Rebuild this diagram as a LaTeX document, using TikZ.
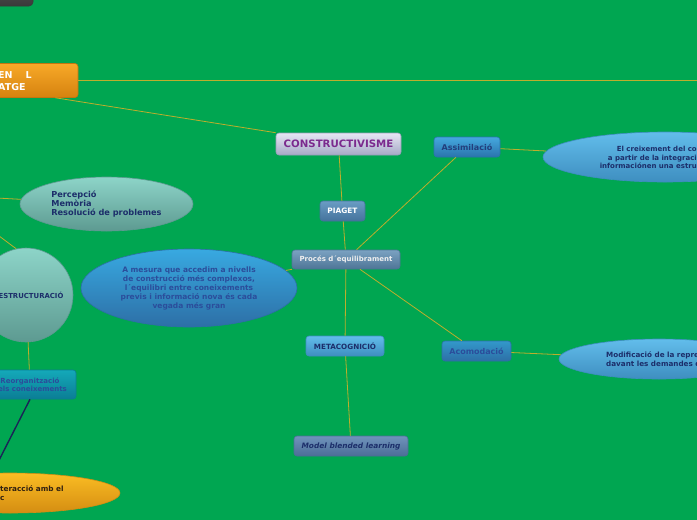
\documentclass[tikz,border=0pt]{standalone}
\usepackage{fontspec}
\setmainfont{DejaVu Sans}
\usepackage{xcolor}
\usetikzlibrary{shapes.geometric}
\definecolor{mapgreen}{HTML}{00A651}
\definecolor{linkolive}{HTML}{BDAE2C}
\definecolor{linknavy}{HTML}{1A2456}
\definecolor{inknavy}{HTML}{1C2E6A}
\definecolor{inkblue}{HTML}{2B4D9B}
\definecolor{inkpurple}{HTML}{7B2A8E}
\definecolor{darktop}{HTML}{5A5A5A}
\definecolor{darkbot}{HTML}{3A3A3A}
\definecolor{orangetop}{HTML}{F7A928}
\definecolor{orangebot}{HTML}{D6820F}
\definecolor{orangeline}{HTML}{C47510}
\definecolor{lilactop}{HTML}{E6E6F4}
\definecolor{lilacbot}{HTML}{A6A9C6}
\definecolor{lilacline}{HTML}{9A9DBA}
\definecolor{steeltop}{HTML}{6A9CC4}
\definecolor{steelbot}{HTML}{44739C}
\definecolor{slatetop}{HTML}{7BA2C2}
\definecolor{slatebot}{HTML}{4E7596}
\definecolor{denimtop}{HTML}{7093BC}
\definecolor{denimbot}{HTML}{4B6E96}
\definecolor{skytop}{HTML}{62BDEB}
\definecolor{skybot}{HTML}{3E8EC0}
\definecolor{oceantop}{HTML}{45A8DF}
\definecolor{oceanbot}{HTML}{2A74AC}
\definecolor{deeptop}{HTML}{38A9E1}
\definecolor{deepbot}{HTML}{2D6FA6}
\definecolor{tealtop}{HTML}{8DD4C8}
\definecolor{tealbot}{HTML}{5D9A91}
\definecolor{cyantop}{HTML}{14A9B9}
\definecolor{cyanbot}{HTML}{0B7D95}
\definecolor{goldtop}{HTML}{FBBD23}
\definecolor{goldbot}{HTML}{D48D12}

\begin{document}
\begin{tikzpicture}[x=1pt,y=-1pt,
  point/.style={coordinate},
  block/.style={rectangle, rounded corners=3pt, line width=0.6pt, inner sep=2pt, minimum height=20pt, text=inknavy, font=\fontsize{7}{8.5}\selectfont\bfseries},
  oval/.style={ellipse, line width=0.6pt, inner sep=0pt, text=inknavy, font=\fontsize{7}{9}\selectfont\bfseries},
  note/.style={inner sep=0pt, text=inknavy, font=\fontsize{7}{8.5}\selectfont\bfseries},
  link/.style={draw=linkolive, line width=0.8pt}]
\useasboundingbox (0,0) rectangle (697,520);
\clip (0,0) rectangle (697,520);
\fill[mapgreen] (0,0) rectangle (697,520);
% left side
\node[block, rounded corners=4pt, top color=darktop, bottom color=darkbot, draw=darkbot, minimum width=66pt, minimum height=32pt] (a0) at (0,-10) {};
\node[block, top color=orangetop, bottom color=orangebot, draw=orangeline, minimum width=116pt, minimum height=34pt] (a1) at (20,80.5) {};
\node[note, anchor=west, align=left, text=white, font=\fontsize{9.5}{12}\selectfont\bfseries] (a2) at (-2,81) {EN\hspace*{13pt}L\\ATGE};
\node[point] (a9) at (700,80.5) {};
\node[oval, top color=tealtop, bottom color=tealbot, draw=tealbot, minimum width=173pt, minimum height=54pt, align=left, font=\fontsize{8.2}{9.2}\selectfont\bfseries] (d2) at (106.5,204) {Percepció\\Memòria\\Resolució de problemes};
\node[point] (d0) at (-40,196) {};
\node[circle, line width=0.6pt, inner sep=0pt, top color=tealtop, bottom color=tealbot, draw=tealbot, minimum size=94pt, text=inknavy, font=\fontsize{6.9}{8}\selectfont\bfseries] (d3) at (26,295) {REESTRUCTURACIÓ};
\node[point] (d9) at (-17,224) {};
\node[block, top color=cyantop, bottom color=cyanbot, draw=cyanbot, text=inkblue, minimum width=92pt, minimum height=29pt, align=center] (d4) at (30,384.5) {Reorganització\\dels coneixements};
\node[oval, top color=goldtop, bottom color=goldbot, draw=goldbot, minimum width=220pt, minimum height=40pt] (d5) at (10,493) {};
\node[note, anchor=west, align=left, text=black!75!brown, font=\fontsize{7.3}{9}\selectfont\bfseries] (d6) at (0,493.5) {teracció amb el\\c};
\node[point] (d8) at (-8,474) {};
\node[oval, top color=deeptop, bottom color=deepbot, draw=deepbot, text=inkblue, minimum width=216pt, minimum height=78pt, align=center, font=\fontsize{7.5}{9}\selectfont\bfseries] (d1) at (189,288) {A mesura que accedim a nivells\\de construcció més complexos,\\l´equilibri entre coneixements\\previs i informació nova és cada\\vegada més gran};
% centre
\node[block, top color=lilactop, bottom color=lilacbot, draw=lilacline, text=inkpurple, minimum width=125pt, minimum height=22pt, font=\fontsize{10.2}{12}\selectfont\bfseries] (b1) at (338.5,144) {CONSTRUCTIVISME};
\node[block, top color=steeltop, bottom color=steelbot, draw=steelbot, text=white, minimum width=45pt, font=\fontsize{7.4}{8.5}\selectfont\bfseries] (b2) at (342.5,211) {PIAGET};
\node[block, top color=slatetop, bottom color=slatebot, draw=slatebot, text=white!94!black, minimum width=108pt, minimum height=19pt] (b3) at (346,259.5) {Procés d´equilibrament};
\node[block, top color=skytop, bottom color=skybot, draw=skybot, minimum width=78pt, font=\fontsize{7.2}{8.5}\selectfont\bfseries] (b4) at (345,346) {METACOGNICIÓ};
\node[block, top color=denimtop, bottom color=denimbot, draw=denimbot, minimum width=114pt, font=\fontsize{7.4}{8.5}\selectfont\bfseries\itshape] (b5) at (351,446) {Model blended learning};
% right side
\node[block, top color=oceantop, bottom color=oceanbot, draw=oceanbot, text=inkblue!80!black, minimum width=66pt, font=\fontsize{8}{9}\selectfont\bfseries] (c1) at (467,147) {Assimilació};
\node[block, top color=deeptop!90!black, bottom color=deepbot, draw=deepbot, text=inkblue, minimum width=69pt, font=\fontsize{8}{9}\selectfont\bfseries] (c2) at (476.5,351) {Acomodació};
\node[oval, top color=skytop, bottom color=skybot, draw=skybot, minimum width=244pt, minimum height=50pt] (c3) at (665,157) {};
\node[note, anchor=east, align=right] (c4) at (697,157.5) {El creixement del co\\a partir de la integraci\\informaciónen una estru};
\node[oval, top color=skytop, bottom color=skybot, draw=skybot, minimum width=200pt, minimum height=40pt] (c5) at (659,359) {};
\node[note, anchor=west, align=left, font=\fontsize{7.2}{9}\selectfont\bfseries] (c6) at (606,359.5) {Modificació de la repres\\davant les demandes d};
\draw[link] (a1.east) -- (a9);
\draw[link] (a1.-26) -- (b1.north west);
\draw[link] (b1) -- (b2);
\draw[link] (b2) -- (b3);
\draw[link] (b3) -- (b4);
\draw[link] (b4) -- (b5);
\draw[link] (b3) -- (c1);
\draw[link] (b3) -- (c2);
\draw[link] (c1) -- (c3);
\draw[link] (c2) -- (c5);
\draw[link] (b3) -- (d1);
\draw[link] (d0) -- (d2);
\draw[link] (d3.102) -- (d9);
\draw[link] (d3) -- (d4);
\draw[draw=linknavy, line width=1.4pt] (d4.south) -- (d8);
\end{tikzpicture}
\end{document}
